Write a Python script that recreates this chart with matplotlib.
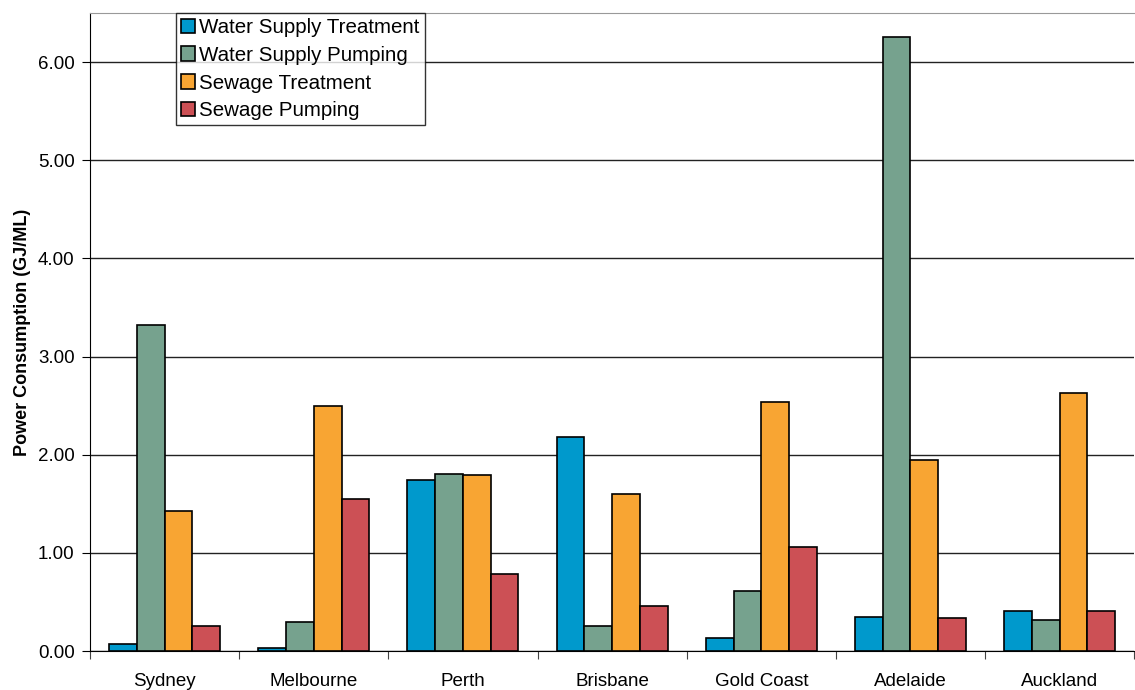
import numpy as np
import matplotlib
matplotlib.use("Agg")
import matplotlib.pyplot as plt

plt.rcParams["font.family"] = ["Liberation Sans", "DejaVu Sans"]

cities = ["Sydney", "Melbourne", "Perth", "Brisbane", "Gold Coast", "Adelaide", "Auckland"]
series_names = ["Water Supply Treatment", "Water Supply Pumping", "Sewage Treatment", "Sewage Pumping"]
water_treatment = [0.07, 0.03, 1.74, 2.18, 0.13, 0.35, 0.41]
water_pumping = [3.32, 0.30, 1.80, 0.25, 0.61, 6.26, 0.32]
sewage_treatment = [1.43, 2.50, 1.79, 1.60, 2.54, 1.95, 2.63]
sewage_pumping = [0.25, 1.55, 0.78, 0.46, 1.06, 0.34, 0.41]
colors = ["#0099CC", "#76A28E", "#F8A533", "#CC5055"]

fig = plt.figure(figsize=(11.35, 6.9), dpi=100)
ax = fig.add_axes([0.0793, 0.0565, 0.92, 0.9245])

x = np.arange(len(cities))
w = 0.186
all_series = [water_treatment, water_pumping, sewage_treatment, sewage_pumping]
for i, (vals, name, c) in enumerate(zip(all_series, series_names, colors)):
    ax.bar(x + (i - 1.5) * w, vals, width=w, color=c, edgecolor="black",
           linewidth=1.2, label=name, zorder=3)

ax.set_xlim(-0.5, len(cities) - 0.5)
ax.set_ylim(0, 6.5)
ax.set_yticks(np.arange(0, 7, 1.0))
ax.set_yticklabels([f"{v:.2f}" for v in np.arange(0, 7, 1.0)], fontsize=13.5)
ax.yaxis.grid(True, color="#222222", linewidth=1, zorder=0)
ax.set_axisbelow(True)

# category labels centred, ticks on the boundaries
ax.set_xticks(np.arange(-0.5, len(cities), 1.0))
ax.set_xticklabels([])
ax.set_xticks(x, minor=True)
ax.set_xticklabels(cities, minor=True, fontsize=13.5)
ax.tick_params(axis="x", which="minor", length=0, pad=16)
ax.tick_params(axis="x", which="major", length=6, direction="out", color="#444444")
ax.tick_params(axis="y", length=6, direction="out", pad=5)

ax.spines["top"].set_color("#999999")
ax.spines["right"].set_visible(False)
ax.spines["left"].set_color("black")
ax.spines["bottom"].set_color("black")

ax.set_ylabel("Power Consumption (GJ/ML)", fontsize=13, fontweight="bold", labelpad=5)

leg = ax.legend(loc="upper left", bbox_to_anchor=(0.082, 1.0), borderaxespad=0,
                fontsize=14.8, frameon=True, fancybox=False, handlelength=0.7,
                handleheight=0.7, handletextpad=0.2, labelspacing=0.42,
                borderpad=0.25)
leg.get_frame().set_edgecolor("black")
leg.get_frame().set_linewidth(1)

fig.savefig("out.png", dpi=100)
